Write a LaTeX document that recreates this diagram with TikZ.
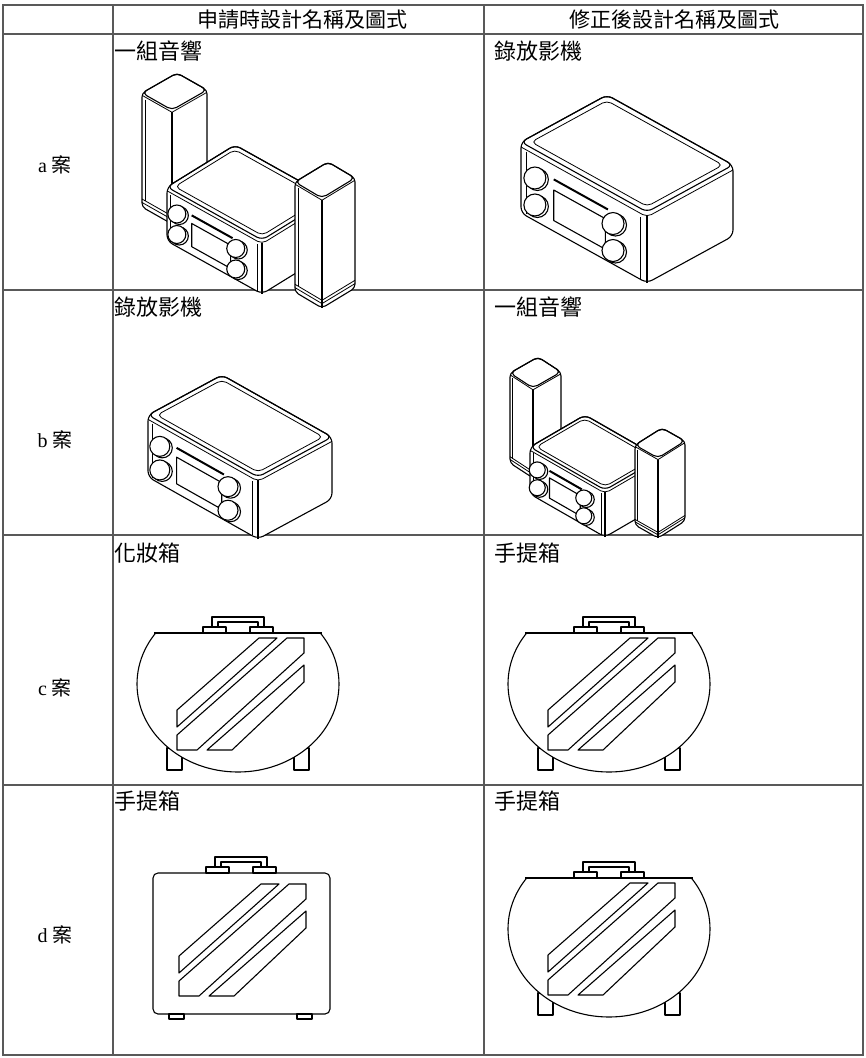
\documentclass[tikz,border=0pt]{standalone}
\usepackage{fontspec}
\setmainfont{Liberation Serif}
\newfontfamily\cjk{Noto Sans CJK TC}
\begin{document}
\begin{tikzpicture}[x=1pt,y=-1pt,
  grid/.style={draw=black!65,line width=1.3pt},
  obj/.style={draw=black,line width=1.1pt,line join=round},
  lbl/.style={anchor=west,font=\cjk\fontsize{22}{22}\selectfont,inner sep=0pt},
  hdr/.style={font=\cjk\fontsize{21}{21}\selectfont,inner sep=0pt},
  rowl/.style={font=\fontsize{20}{20}\selectfont,inner sep=0pt}]
\useasboundingbox (0,0) rectangle (866,1058);
% table
\draw[grid] (3,5) rectangle (863,1055);
\foreach \yy in {34,290,535,785} \draw[grid] (3,\yy) -- (863,\yy);
\draw[grid] (113,5) -- (113,1055);
\draw[grid] (484,5) -- (484,1055);
\node[hdr] (h1) at (302,20) {申請時設計名稱及圖式};
\node[hdr] (h2) at (674,20) {修正後設計名稱及圖式};
\node[rowl] (ra) at (55,165) {a {\cjk 案}};
\node[rowl] (rb) at (55,440) {b {\cjk 案}};
\node[rowl] (rc) at (55,688) {c {\cjk 案}};
\node[rowl] (rd) at (55,935) {d {\cjk 案}};
\node[lbl] (a1) at (114,51) {一組音響};
\node[lbl] (a2) at (494,51) {錄放影機};
\node[lbl] (b1) at (114,307) {錄放影機};
\node[lbl] (b2) at (494,307) {一組音響};
\node[lbl] (c1) at (114,553) {化妝箱};
\node[lbl] (c2) at (494,553) {手提箱};
\node[lbl] (d1) at (114,801) {手提箱};
\node[lbl] (d2) at (494,801) {手提箱};

% ---------- macros ----------
\newcommand\mystripes[2]{% left x, top y
 \begin{scope}[shift={(#1,#2)}]
  \draw[obj] (0,72)--(82,0)--(100,0)--(0,89)--cycle;
  \draw[obj] (0,97)--(110,0)--(127,0)--(127,15)--(20,112)--(0,112)--cycle;
  \draw[obj] (127,27)--(127,44)--(55,112)--(30,112)--cycle;
 \end{scope}}
\newcommand\myhandle[2]{% center x, top y of body
 \begin{scope}[shift={(#1,#2)}]
  \draw[obj] (-26,0)--(-26,-16)--(26,-16)--(26,0);
  \draw[obj] (-20,-6)--(-20,-11)--(20,-11)--(20,-6);
  \draw[obj,fill=white] (-35,-6) rectangle (-12,0);
  \draw[obj,fill=white] (12,-6) rectangle (35,0);
 \end{scope}}
\newcommand\roundcase[2]{% chord center x, chord y
 \begin{scope}[shift={(#1,#2)}]
  \draw[obj] (-71,115) rectangle (-56,137);
  \draw[obj] (56,115) rectangle (71,137);
  \draw[obj,fill=white] (0,51) ellipse [x radius=101,y radius=88];
  \fill[white] (-102,-1) rectangle (102,-40);
  \draw[obj] (-84,0)--(84,0);
  \myhandle{0}{0}
 \end{scope}
 \mystripes{#1-61}{#2+5}}
\newcommand\rectcase[2]{% center x, top y
 \begin{scope}[shift={(#1,#2)}]
  \draw[obj] (-72,141) rectangle (-57,146);
  \draw[obj] (56,141) rectangle (71,146);
  \draw[obj,rounded corners=5] (-88,0) rectangle (89,141);
  \myhandle{0}{0}
 \end{scope}
 \mystripes{#1-62}{#2+11}}
% radio: #1 origin, #2 x vec (front face dir), #3 y vec (depth), #4 height, #5 knob radius
\newcommand\radio[5]{%
 \begin{scope}[shift={#1},x={#2},y={#3},z={#4}]
  \draw[obj,fill=white,rounded corners=6pt] (0,0,0)--(0,0,1)--(1,0,1)--(1,1,1)--(1,1,0)--(0,1,0)--cycle;
  \draw[obj,rounded corners=6pt] (0,0,0)--(0,1,0)--(1,1,0)--(1,0,0)--cycle;
  \draw[obj,line width=0.8pt,rounded corners=5pt] (0.04,0.06,0)--(0.04,0.94,0)--(0.96,0.94,0)--(0.96,0.06,0)--cycle;
  \draw[obj,line width=0.8pt,rounded corners=5pt] (0,0,0.07)--(1,0,0.07)--(1,1,0.07);
  \draw[obj] (1,0,0.05)--(1,0,1);
  \draw[obj,line width=0.8pt] (0.04,0,0.1)--(0.04,0,0.97);
  \draw[obj,line width=0.8pt] (0.95,0,0.12)--(0.95,0,0.99);
  \draw[obj,line width=2pt] (0.26,0,0.27)--(0.69,0,0.27);
  \draw[obj] (0.26,0,0.42)--(0.67,0,0.42)--(0.67,0,0.85)--(0.26,0,0.85)--cycle;
  \foreach \s/\zz in {0.13/0.4,0.13/0.78,0.75/0.43,0.75/0.81}{
   \draw[obj,fill=white] (\s,0,\zz) circle[radius=#5];
   \draw[obj,fill=white] (\s,0,\zz) ++(-2.5pt,1.5pt) circle[radius=#5];}
 \end{scope}}
% speaker: #1 origin, #2 x vec, #3 y vec, #4 height
\newcommand\speaker[4]{%
 \begin{scope}[shift={#1},x={#2},y={#3},z={#4}]
  \draw[obj,fill=white,rounded corners=4pt] (0,0,0)--(0,0,1)--(1,0,1)--(1,1,1)--(1,1,0)--(0,1,0)--cycle;
  \draw[obj,rounded corners=5pt] (0,0,0)--(0,1,0)--(1,1,0)--(1,0,0)--cycle;
  \draw[obj,line width=0.8pt] (0,0,0.02)--(1,0,0.02)--(1,1,0.02);
  \draw[obj] (1,0,0.02)--(1,0,1);
  \draw[obj,line width=0.8pt] (0.12,0,0.04)--(0.12,0,0.93);
  \draw[obj,line width=0.8pt] (0,0,0.93)--(1,0,0.93)--(1,1,0.93);
  \draw[obj,line width=0.8pt] (0,0,0.96)--(1,0,0.96)--(1,1,0.96);
 \end{scope}}

% ---------- a row ----------
\speaker{(142pt,-93pt)}{(30pt,-17pt)}{(35pt,20pt)}{(0pt,-114pt)}
\radio{(167pt,-187pt)}{(95pt,-53pt)}{(68pt,42pt)}{(0pt,-54pt)}{9pt}
\speaker{(295pt,-182pt)}{(27pt,-16pt)}{(33pt,20pt)}{(0pt,-110pt)}
\radio{(521pt,-142pt)}{(126pt,-70pt)}{(86pt,47pt)}{(0pt,-71pt)}{11pt}
% ---------- b row ----------
\radio{(148pt,-415pt)}{(110pt,-62pt)}{(74pt,40pt)}{(0pt,-62pt)}{10pt}
\speaker{(510pt,-373pt)}{(23pt,-15pt)}{(28pt,16pt)}{(0pt,-90pt)}
\radio{(530pt,-447pt)}{(75pt,-43pt)}{(55pt,32pt)}{(0pt,-47pt)}{8pt}
\speaker{(635pt,-445pt)}{(23pt,-13pt)}{(27pt,17pt)}{(0pt,-80pt)}
% ---------- c row ----------
\roundcase{238}{633}
\roundcase{609}{633}
% ---------- d row ----------
\rectcase{241}{873}
\roundcase{609}{878}
\end{tikzpicture}
\end{document}
